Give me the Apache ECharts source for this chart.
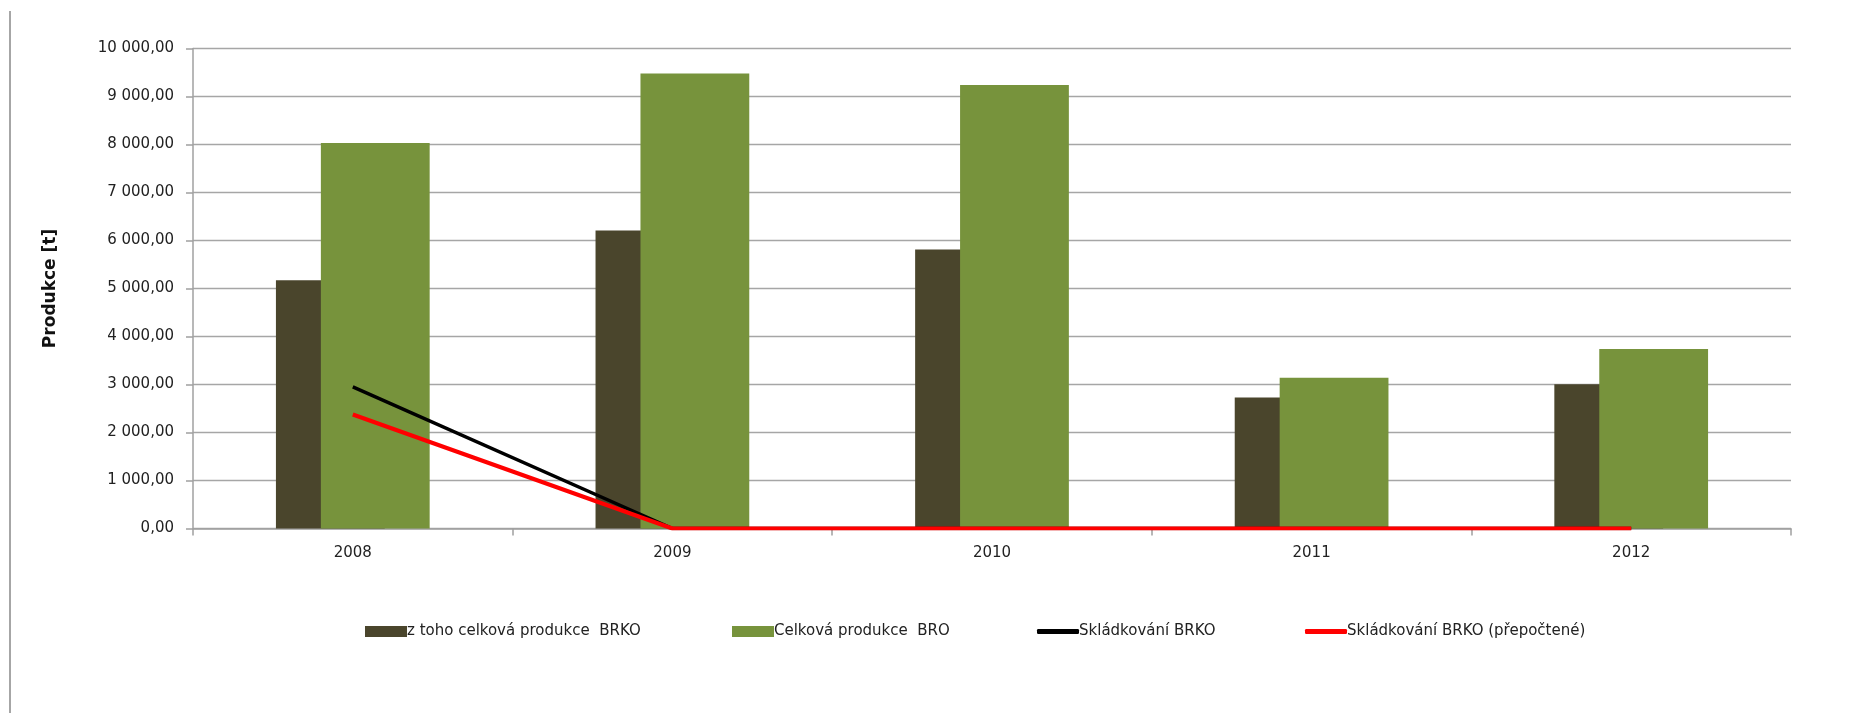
<!DOCTYPE html>
<html>
<head>
<meta charset="utf-8">
<script src="https://cdn.jsdelivr.net/npm/echarts@6/dist/echarts.min.js"></script>
<style>
html,body{margin:0;padding:0;background:#fff;}
#chart{width:1854px;height:713px;}
</style>
</head>
<body>
<div id="chart"></div>
<script>
const categories = ['2008', '2009', '2010', '2011', '2012'];
const brkoTotal = [5170, 6210, 5810, 2730, 3005];
const broTotal = [8030, 9480, 9240, 3140, 3740];
const landfillBrko = [2950, 0, 0, 0, 0];
const landfillBrkoRecalc = [2375, 0, 0, 0, 0];
const seriesNames = ['z toho celková produkce  BRKO', 'Celková produkce  BRO', 'Skládkování BRKO', 'Skládkování BRKO (přepočtené)'];

function fmt(v) {
  const s = Number(v).toFixed(2).split('.');
  return s[0].replace(/\B(?=(\d{3})+(?!\d))/g, ' ') + ',' + s[1];
}

const FONT = 'DejaVu Sans';
const chart = echarts.init(document.getElementById('chart'), null, {renderer: 'canvas'});
const legendBase = {
  orient: 'horizontal', top: 619, itemWidth: 42, itemHeight: 11, itemGap: 0,
  textStyle: {fontFamily: FONT, fontSize: 15, color: '#222', padding: [0, 0, 0, -5]},
  selectedMode: false
};
chart.setOption({
  animation: false,
  backgroundColor: '#ffffff',
  graphic: [{
    type: 'line', shape: {x1: 10, y1: 11, x2: 10, y2: 713},
    style: {stroke: '#a6a6a6', lineWidth: 2}
  }],
  grid: {left: 193, right: 63, top: 48.5, bottom: 184.5},
  legend: [
    Object.assign({}, legendBase, {left: 360, icon: 'rect', data: [seriesNames[0]]}),
    Object.assign({}, legendBase, {left: 727, icon: 'rect', data: [seriesNames[1]]}),
    Object.assign({}, legendBase, {left: 1032, icon: 'roundRect', itemHeight: 5, data: [seriesNames[2]]}),
    Object.assign({}, legendBase, {left: 1300, icon: 'roundRect', itemHeight: 5, data: [seriesNames[3]]})
  ],
  xAxis: {
    type: 'category', data: categories,
    axisLine: {lineStyle: {color: '#a0a0a0', width: 1.5}},
    axisTick: {show: true, length: 7, lineStyle: {color: '#a0a0a0', width: 1.5}},
    axisLabel: {fontFamily: FONT, fontSize: 15, color: '#222', margin: 17}
  },
  yAxis: {
    type: 'value', min: 0, max: 10000, interval: 1000,
    name: 'Produkce [t]', nameLocation: 'middle', nameGap: 112, nameRotate: 90,
    nameTextStyle: {fontFamily: FONT, fontSize: 17, fontWeight: 'bold', color: '#111', padding: [0, 0, 22, 0]},
    axisLine: {show: true, lineStyle: {color: '#a0a0a0', width: 1.5}},
    axisTick: {show: true, length: 7, lineStyle: {color: '#a0a0a0', width: 1.5}},
    axisLabel: {fontFamily: FONT, fontSize: 15, color: '#222', margin: 19, formatter: fmt},
    splitLine: {lineStyle: {color: '#a6a6a6', width: 1.3}}
  },
  series: [
    {name: seriesNames[0], type: 'bar', data: brkoTotal, barWidth: 108.8, barGap: '-58.7%',
     itemStyle: {color: '#4a452c'}},
    {name: seriesNames[1], type: 'bar', data: broTotal, barWidth: 108.8,
     itemStyle: {color: '#77933c'}},
    {name: seriesNames[2], type: 'line', data: landfillBrko, symbol: 'none',
     lineStyle: {color: '#000000', width: 3.5}, itemStyle: {color: '#000000'}, z: 3},
    {name: seriesNames[3], type: 'line', data: landfillBrkoRecalc, symbol: 'none',
     lineStyle: {color: '#ff0000', width: 4}, itemStyle: {color: '#ff0000'}, z: 4}
  ]
});
</script>
</body>
</html>
